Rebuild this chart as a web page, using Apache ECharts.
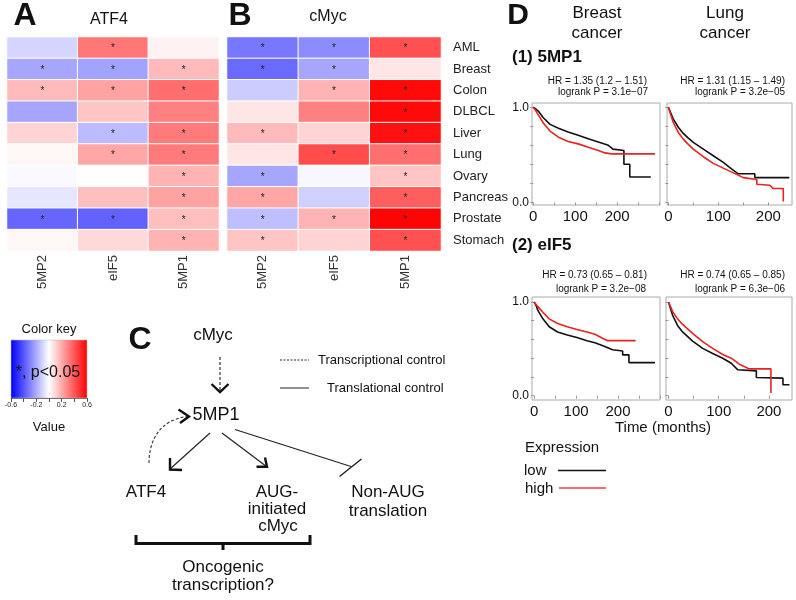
<!DOCTYPE html>
<html><head><meta charset="utf-8">
<script src="https://cdn.jsdelivr.net/npm/echarts@6/dist/echarts.min.js"></script>
<style>html,body{margin:0;padding:0;background:#fff}#c{width:796px;height:600px}</style>
</head><body><div id="c"></div>
<script>
// ---------- DATA ----------
const cancers = ['AML','Breast','Colon','DLBCL','Liver','Lung','Ovary','Pancreas','Prostate','Stomach'];
const genes = ['5MP2','eIF5','5MP1'];
// ATF4 correlations (rows = cancers)
const atf4_5MP2 = [-0.10,-0.21,0.16,-0.21,0.10,0.02,-0.015,-0.06,-0.36,0.02];
const atf4_eIF5 = [0.32,-0.22,0.22,0.14,-0.16,0.21,0.005,0.15,-0.37,0.09];
const atf4_5MP1 = [0.03,0.16,0.34,0.30,0.31,0.31,0.18,0.22,0.15,0.18];
const atf4Sig_5MP2 = [0,1,1,0,0,0,0,0,1,0];
const atf4Sig_eIF5 = [1,1,1,0,1,1,0,0,1,0];
const atf4Sig_5MP1 = [0,1,1,0,1,1,1,1,1,1];
// cMyc correlations
const cmyc_5MP2 = [-0.32,-0.35,-0.12,0.06,0.16,0.06,-0.21,0.21,-0.15,0.14];
const cmyc_eIF5 = [-0.27,-0.21,0.18,0.30,0.10,0.42,-0.02,-0.11,0.18,0.10];
const cmyc_5MP1 = [0.41,0.06,0.58,0.58,0.56,0.34,0.14,0.38,0.59,0.41];
const cmycSig_5MP2 = [1,1,0,0,1,0,1,1,1,1];
const cmycSig_eIF5 = [1,1,1,0,0,1,0,0,1,0];
const cmycSig_5MP1 = [1,0,1,1,1,1,1,1,1,1];
// colour key ticks
const keyTicks = [-0.6,-0.4,-0.2,0,0.2,0.4,0.6];
const keyLabels = [-0.6,-0.2,0.2,0.6];
// Kaplan-Meier curves [months, survival]
const breast5MP1Low = [[0,1],[5,0.985],[12,0.96],[24,0.89],[40,0.82],[60,0.78],[83,0.74],[107,0.705],[131,0.67],[155,0.635],[179,0.60],[190,0.56],[194,0.545],[216,0.545],[216,0.40],[230,0.40],[230,0.267],[280,0.267]];
const breast5MP1High = [[0,1],[5,0.97],[12,0.92],[24,0.835],[40,0.75],[60,0.685],[83,0.64],[107,0.615],[131,0.58],[155,0.545],[171,0.52],[187,0.51],[290,0.51]];
const lung5MP1Low = [[0,1],[5,0.94],[10,0.876],[20,0.79],[30,0.725],[40,0.675],[50,0.63],[70,0.56],[90,0.49],[110,0.42],[127,0.35],[140,0.30],[173,0.30],[173,0.26],[242,0.26]];
const lung5MP1High = [[0,1],[5,0.92],[10,0.84],[20,0.735],[30,0.665],[40,0.61],[50,0.56],[70,0.48],[90,0.41],[110,0.36],[130,0.31],[150,0.26],[177,0.24],[177,0.19],[203,0.18],[210,0.145],[230,0.145],[230,0.01]];
const breastEIF5Low = [[0,1],[4,0.97],[9,0.91],[21,0.82],[36,0.735],[56,0.68],[79,0.647],[102,0.62],[126,0.587],[145,0.565],[164,0.534],[187,0.49],[211,0.477],[211,0.435],[226,0.435],[226,0.353],[288,0.353]];
const breastEIF5High = [[0,1],[4,0.98],[9,0.95],[21,0.89],[36,0.82],[56,0.77],[79,0.735],[102,0.707],[126,0.68],[145,0.655],[164,0.61],[176,0.587],[242,0.587]];
const lungEIF5Low = [[0,1],[4,0.93],[8,0.86],[18,0.75],[28,0.68],[48,0.583],[68,0.505],[88,0.45],[108,0.40],[125,0.346],[138,0.276],[175,0.265],[175,0.194],[228,0.187],[228,0.117],[241,0.117]];
const lungEIF5High = [[0,1],[4,0.95],[8,0.90],[18,0.82],[28,0.76],[48,0.665],[68,0.576],[88,0.505],[108,0.44],[125,0.40],[141,0.336],[155,0.30],[160,0.286],[204,0.286],[204,0.03]];
const kmXTicks = [0,50,100,150,200,250,300];
const kmXLabels = [0,100,200];
const kmYTicks = [0,0.2,0.4,0.6,0.8,1.0];
const kmYLabels = [0,1];

// ---------- CHART ----------
const FONT = "'Liberation Sans', Arial, Helvetica, sans-serif";
const chart = echarts.init(document.getElementById('c'));

function heatData(cols){const d=[];cols.forEach((arr,ci)=>arr.forEach((v,ri)=>d.push([ci,ri,v])));return d;}
const atfSig=[atf4Sig_5MP2,atf4Sig_eIF5,atf4Sig_5MP1];
const mycSig=[cmycSig_5MP2,cmycSig_eIF5,cmycSig_5MP1];

function heatX(gi){return {gridIndex:gi,type:'category',data:genes,axisLine:{show:false},axisTick:{show:false},
  axisLabel:{rotate:90,fontSize:13,fontFamily:FONT,color:'#333',margin:4},splitLine:{show:false}};}
function heatY(gi,show){return {gridIndex:gi,type:'category',data:cancers,inverse:true,position:'right',
  axisLine:{show:false},axisTick:{show:false},axisLabel:{show:show,fontSize:13,fontFamily:FONT,color:'#222',margin:12},splitLine:{show:false}};}
function heatSeries(gi,cols,sig){return {type:'heatmap',xAxisIndex:gi,yAxisIndex:gi,data:heatData(cols),silent:true,
  itemStyle:{borderColor:'#fff',borderWidth:1},emphasis:{disabled:true},
  label:{show:true,formatter:p=>sig[p.data[0]][p.data[1]]?'*':'',fontSize:10,color:'#222',fontFamily:FONT,offset:[0,1]}};}

function kmX(gi,min,max){return {gridIndex:gi,type:'value',min:min,max:max,axisLine:{show:false},
  axisTick:{show:true,length:3,lineStyle:{color:'#999'},customValues:kmXTicks},
  axisLabel:{customValues:kmXLabels,fontSize:15,fontFamily:FONT,color:'#111',margin:4},splitLine:{show:false}};}
function kmY(gi,min,max,lab){return {gridIndex:gi,type:'value',min:min,max:max,axisLine:{show:false},
  axisTick:{show:true,length:3,lineStyle:{color:'#999'},customValues:kmYTicks},
  axisLabel:{show:lab,customValues:kmYLabels,formatter:v=>v.toFixed(1),fontSize:12,fontFamily:FONT,color:'#111',margin:3},splitLine:{show:false}};}
function km(gi,data,col,w){return {type:'line',xAxisIndex:gi,yAxisIndex:gi,data:data,showSymbol:false,symbol:'none',silent:true,
  lineStyle:{color:col,width:w}};}
const BLK='#111', RED='#e8231f';

const T=(text,x,y,size,opt)=>Object.assign({type:'text',style:{text:text,x:x,y:y,fill:'#111',
  font:(opt&&opt.bold?'bold ':'')+size+'px '+FONT,textAlign:(opt&&opt.align)||'center',textVerticalAlign:'middle'}});
const L=(x1,y1,x2,y2,w,dash,col)=>({type:'line',shape:{x1,y1,x2,y2},style:{stroke:col||'#222',lineWidth:w||1.2,lineDash:dash||null}});
const P=(pts,w,col)=>({type:'polyline',shape:{points:pts},style:{stroke:col||'#111',lineWidth:w||2.4,fill:null,lineJoin:'miter'}});

const graphics=[
  T('A',25,16,32,{bold:true}), T('ATF4',109,20,16),
  T('B',240,16,32,{bold:true}), T('cMyc',328,17,16),
  T('D',518,16,30,{bold:true}),
  T('Breast',597,13,17), T('cancer',597,33,17),
  T('Lung',725,13,17), T('cancer',725,33,17),
  T('(1) 5MP1',512,57,17,{bold:true,align:'left'}),
  T('(2) eIF5',512,245,17,{bold:true,align:'left'}),
  T('HR = 1.35 (1.2 \u2013 1.51)',647,81,10,{align:'right'}),
  T('logrank P = 3.1e\u221207',648,92,10,{align:'right'}),
  T('HR = 1.31 (1.15 \u2013 1.49)',785,81,10,{align:'right'}),
  T('logrank P = 3.2e\u221205',785,92,10,{align:'right'}),
  T('HR = 0.73 (0.65 \u2013 0.81)',647,275,10,{align:'right'}),
  T('logrank P = 3.2e\u221208',646,289,10,{align:'right'}),
  T('HR = 0.74 (0.65 \u2013 0.85)',785,275,10,{align:'right'}),
  T('logrank P = 6.3e\u221206',785,289,10,{align:'right'}),
  T('Time (months)',663,428,15),
  T('Expression',525,448,15,{align:'left'}),
  T('low',524,471,15,{align:'left'}), L(558,470.5,606,470.5,1.3,null,'#111'),
  T('high',525,489,15,{align:'left'}), L(559,488,606,488,1.5,null,'#f04040'),
  T('Color key',49,329,13),
  {type:'rect',shape:{x:11,y:340,width:76,height:58},style:{stroke:'#bbb',lineWidth:0.5,
    fill:new echarts.graphic.LinearGradient(0,0,1,0,[{offset:0,color:'#0000ff'},{offset:0.5,color:'#ffffff'},{offset:1,color:'#ff0000'}])}},
  T('*, p<0.05',48,373,16),
  T('Value',49,427,13),
  T('C',140,340,32,{bold:true}),
  T('cMyc',213,335,17),
  L(220,357,220,391,1.1,[3,2]),
  P([[211.5,384],[220,392],[228.5,384]],2.4),
  T('5MP1',216,415,18),
  L(280,360,309,360,1,[2,1.5]), T('Transcriptional control',318,360,13,{align:'left'}),
  L(280,388,309,388,1), T('Translational control',327,388,13,{align:'left'}),
  L(210,433,170,469,1.2), P([[170,458],[170,469.5],[182,470]],2.4),
  L(222,433,266.5,466.5,1.2), P([[256.5,466.7],[267,466.7],[265,457.5]],2.4),
  L(235,429.5,351,466.5,1.2), L(339.5,476.5,361.5,459,1.5),
  {type:'bezierCurve',shape:{x1:149,y1:463,cpx1:149,cpy1:440,cpx2:160,cpy2:420,x2:187,y2:416.5},style:{stroke:'#333',lineWidth:1.1,lineDash:[3,2],fill:null}},
  P([[178.5,409.5],[189,416.5],[180,423]],2.4),
  T('ATF4',146,492,17),
  T('AUG-',277,492,17), T('initiated',277,509,17), T('cMyc',278,526,17),
  T('Non-AUG',388,492,17), T('translation',388,511,17),
  P([[136,535],[136,543.5],[310,543.5],[310,535]],3,'#111'), L(223,543.5,223,550,3,null,'#111'),
  T('Oncogenic',223,567,17), T('transcription?',223,585,17)
];

const option={
  animation:false,
  backgroundColor:'#fff',
  textStyle:{fontFamily:FONT},
  visualMap:{type:'continuous',min:-0.6,max:0.6,dimension:2,seriesIndex:[0,1],show:false,
    inRange:{color:['#0000ff','#ffffff','#ff0000']}},
  grid:[
    {left:7,top:37,width:212,height:214},
    {left:227,top:37,width:214,height:214},
    {left:11,top:340,width:76,height:58},
    {left:532,top:103,width:128,height:102,show:true,borderColor:'#aaa',borderWidth:1,backgroundColor:'transparent'},
    {left:667,top:103,width:125,height:102,show:true,borderColor:'#aaa',borderWidth:1,backgroundColor:'transparent'},
    {left:532,top:297,width:128,height:103,show:true,borderColor:'#aaa',borderWidth:1,backgroundColor:'transparent'},
    {left:666,top:297,width:126,height:103,show:true,borderColor:'#aaa',borderWidth:1,backgroundColor:'transparent'}
  ],
  xAxis:[
    heatX(0),heatX(1),
    {gridIndex:2,type:'value',min:-0.6,max:0.6,interval:0.2,axisLine:{show:true,lineStyle:{color:'#555',width:0.8}},
      axisTick:{show:true,length:4,lineStyle:{color:'#555'}},splitLine:{show:false},
      axisLabel:{fontSize:7,color:'#222',margin:4,fontFamily:FONT,showMinLabel:true,showMaxLabel:true,
        formatter:v=>keyLabels.some(k=>Math.abs(k-v)<1e-6)?v.toFixed(1):''}},
    kmX(3,-3,302),kmX(4,-2.6,247.4),kmX(5,-5,300),kmX(6,-5,246)
  ],
  yAxis:[
    heatY(0,false),heatY(1,true),
    {gridIndex:2,type:'value',min:0,max:1,show:false},
    kmY(3,-0.028,1.045,true),kmY(4,-0.028,1.045,false),kmY(5,-0.046,1.053,true),kmY(6,-0.046,1.053,false)
  ],
  series:[
    heatSeries(0,[atf4_5MP2,atf4_eIF5,atf4_5MP1],atfSig),
    heatSeries(1,[cmyc_5MP2,cmyc_eIF5,cmyc_5MP1],mycSig),
    {type:'scatter',xAxisIndex:2,yAxisIndex:2,data:[],silent:true},
    km(3,breast5MP1Low,BLK,1.6),km(3,breast5MP1High,RED,1.6),
    km(4,lung5MP1Low,BLK,1.6),km(4,lung5MP1High,RED,1.6),
    km(5,breastEIF5Low,BLK,1.6),km(5,breastEIF5High,RED,1.6),
    km(6,lungEIF5Low,BLK,1.6),km(6,lungEIF5High,RED,1.6)
  ],
  graphic:{elements:graphics}
};
chart.setOption(option);
</script></body></html>
